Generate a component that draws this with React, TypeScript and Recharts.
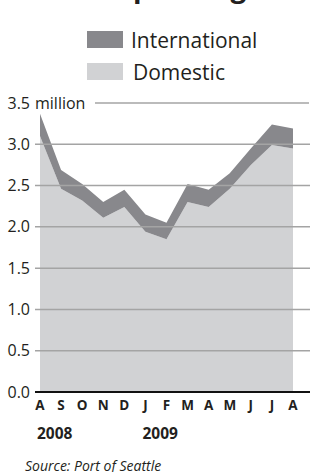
import { AreaChart, Area, XAxis, YAxis, ReferenceLine } from 'recharts'

// Aug 2008 .. Aug 2009, passengers in millions
const months = ['A', 'S', 'O', 'N', 'D', 'J', 'F', 'M', 'A', 'M', 'J', 'J', 'A']
const years = ['2008', '', '', '', '', '2009', '', '', '', '', '', '', '']
const domestic = [3.1, 2.46, 2.32, 2.11, 2.24, 1.94, 1.85, 2.3, 2.24, 2.46, 2.75, 2.99, 2.95]
const international = [0.27, 0.23, 0.2, 0.19, 0.21, 0.21, 0.2, 0.22, 0.21, 0.19, 0.2, 0.25, 0.24]
const yTicks = [0, 0.5, 1, 1.5, 2, 2.5, 3, 3.5]
const gridValues = [0.5, 1, 1.5, 2, 2.5, 3]

const data = months.map((m, i) => ({
  i,
  month: m,
  domestic: domestic[i],
  international: international[i],
}))

const FONT = '"Open Sans", "Noto Sans", sans-serif'
const DARK = '#88888c'
const LIGHT = '#d1d2d4'
const GRID = '#a4a4a4'
const INK = '#231f20'

function MonthTick(props: any) {
  const { x, y, payload } = props
  const i = payload.value
  return (
    <g>
      <text x={x} y={y + 18} textAnchor="middle" fontSize={13.5} fontWeight={700} fill={INK} fontFamily={FONT}>
        {months[i]}
      </text>
      {years[i] && (
        <text x={x - 3} y={y + 47} textAnchor="start" fontSize={15.5} fontWeight={700} fill={INK} fontFamily={FONT}>
          {years[i]}
        </text>
      )}
    </g>
  )
}

function ValueTick(props: any) {
  const { y, payload } = props
  const v = payload.value as number
  return (
    <g>
      <text x={30} y={y + 5.5} textAnchor="end" fontSize={16} fill={INK} fontFamily={FONT}>
        {v.toFixed(1)}
      </text>
      {v === 3.5 && (
        <>
          <text x={35} y={y + 5.5} textAnchor="start" fontSize={16} fill={INK} fontFamily={FONT}>
            million
          </text>
          <line x1={95} x2={309} y1={y} y2={y} stroke={GRID} strokeWidth={1.5} />
        </>
      )}
    </g>
  )
}

export default function App() {
  return (
    <div style={{ position: 'absolute', left: 0, top: 0, width: 315, height: 472, overflow: 'hidden', background: '#fff' }}>
      <AreaChart width={315} height={472} data={data} margin={{ top: 103, right: 5, left: 0, bottom: 0 }}>
        <XAxis
          dataKey="i"
          padding={{ left: 5, right: 17 }}
          axisLine={false}
          tickLine={false}
          tickSize={0}
          tickMargin={0}
          interval={0}
          height={80}
          tick={<MonthTick />}
        />
        <YAxis
          domain={[0, 3.5]}
          ticks={yTicks}
          width={35}
          axisLine={false}
          tickLine={false}
          tick={<ValueTick />}
        />
        <Area
          type="linear"
          dataKey="domestic"
          stackId="p"
          fill={LIGHT}
          fillOpacity={1}
          stroke="none"
          isAnimationActive={false}
        />
        <Area
          type="linear"
          dataKey="international"
          stackId="p"
          fill={DARK}
          fillOpacity={1}
          stroke="none"
          isAnimationActive={false}
        />
        {gridValues.map((g) => (
          <ReferenceLine key={g} y={g} stroke={GRID} strokeWidth={1.5} />
        ))}
        <ReferenceLine y={0} stroke="#111" strokeWidth={2} />
      </AreaChart>
      <svg width={315} height={472} style={{ position: 'absolute', left: 0, top: 0, pointerEvents: 'none' }}>
        <text x={133} y={-3} fontSize={28} fontWeight={700} fill={INK} fontFamily={FONT}>passengers</text>
        <rect x={87} y={31} width={36} height={17} fill={DARK} />
        <text x={131} y={47.5} fontSize={21} fill={INK} fontFamily={FONT}>International</text>
        <rect x={87} y={63} width={36} height={17} fill={LIGHT} />
        <text x={133} y={80} fontSize={21} fill={INK} fontFamily={FONT}>Domestic</text>
        <text x={25} y={471} fontSize={14} fontStyle="italic" fill={INK} fontFamily={FONT}>Source: Port of Seattle</text>
      </svg>
    </div>
  )
}
